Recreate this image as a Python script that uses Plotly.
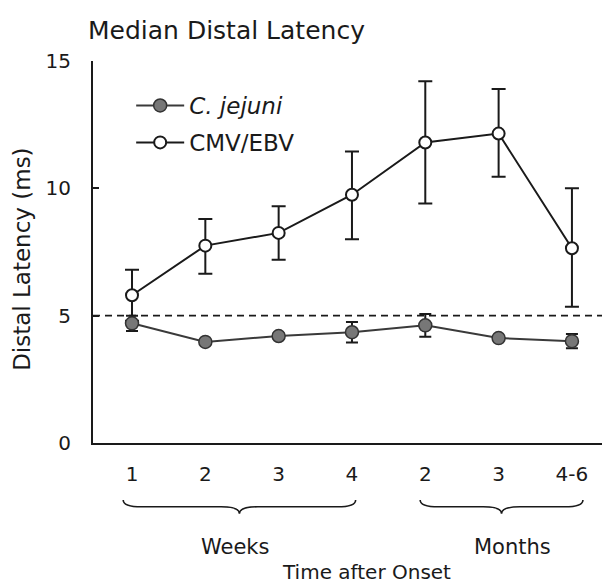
import plotly.graph_objects as go

# Time points after onset (weeks 1-4, then months 2, 3, 4-6)
tick_labels = ["1", "2", "3", "4", "2", "3", "4-6"]
positions = [1, 2, 3, 4, 5, 6, 7]

# Median distal latency (ms) with error-bar half widths
cmv_ebv = [5.8, 7.75, 8.25, 9.75, 11.8, 12.15, 7.65]
cmv_ebv_err_up = [1.0, 1.05, 1.05, 1.7, 2.4, 1.75, 2.35]
cmv_ebv_err_down = [1.0, 1.1, 1.05, 1.75, 2.4, 1.7, 2.3]

c_jejuni = [4.7, 3.97, 4.2, 4.35, 4.62, 4.12, 4.0]
c_jejuni_err = [0.3, 0.0, 0.1, 0.4, 0.45, 0.0, 0.28]

normal_limit = 5

FONT = "DejaVu Sans"
INK = "#1a1a1a"

fig = go.Figure()

fig.add_trace(go.Scatter(
    x=positions, y=cmv_ebv, name="CMV/EBV", legendrank=2,
    mode="lines+markers",
    line=dict(color=INK, width=2),
    marker=dict(symbol="circle", size=12, color="white",
                line=dict(color=INK, width=2)),
    error_y=dict(type="data", symmetric=False, array=cmv_ebv_err_up,
                 arrayminus=cmv_ebv_err_down, color=INK, thickness=2, width=7),
    legendgroup="b",
))

fig.add_trace(go.Scatter(
    x=positions, y=c_jejuni, name="<i>C. jejuni</i>", legendrank=1,
    mode="lines+markers",
    line=dict(color="#3a3a3a", width=2),
    marker=dict(symbol="circle", size=13, color="#777777",
                line=dict(color="#333333", width=1.5)),
    error_y=dict(type="data", array=c_jejuni_err, color=INK,
                 thickness=2, width=6),
    legendgroup="a",
))

# Upper limit of normal
fig.add_shape(type="line", xref="paper", yref="y", x0=0, x1=1,
              y0=normal_limit, y1=normal_limit,
              line=dict(color=INK, width=1.6, dash="7px,5px"))


def brace(x0, x1, y_top=-0.149, y_mid=-0.167, y_tip=-0.185):
    xc = (x0 + x1) / 2
    k = 0.25
    return (f"M {x0},{y_top} Q {x0},{y_mid} {x0 + k},{y_mid} "
            f"L {xc - k},{y_mid} Q {xc},{y_mid} {xc},{y_tip} "
            f"Q {xc},{y_mid} {xc + k},{y_mid} "
            f"L {x1 - k},{y_mid} Q {x1},{y_mid} {x1},{y_top}")


fig.add_shape(type="path", xref="x", yref="paper",
              path=brace(0.88, 4.05), line=dict(color=INK, width=1.6))
fig.add_shape(type="path", xref="x", yref="paper",
              path=brace(4.93, 7.15), line=dict(color=INK, width=1.6))

fig.add_annotation(text="Weeks", xref="paper", yref="paper", x=0.279, y=-0.272,
                   xanchor="center", yanchor="middle", showarrow=False,
                   font=dict(size=21, color=INK, family=FONT))
fig.add_annotation(text="Months", xref="paper", yref="paper", x=0.825, y=-0.272,
                   xanchor="center", yanchor="middle", showarrow=False,
                   font=dict(size=21, color=INK, family=FONT))
fig.add_annotation(text="Time after Onset", xref="paper", yref="paper",
                   x=0.538, y=-0.338, xanchor="center", yanchor="middle",
                   showarrow=False, font=dict(size=20, color=INK, family=FONT))
fig.add_annotation(text="Distal Latency (ms)", xref="paper", yref="paper",
                   x=-0.1395, y=0.482, xanchor="center", yanchor="middle",
                   textangle=-90, showarrow=False,
                   font=dict(size=23, color=INK, family=FONT))

fig.update_layout(
    width=602, height=583,
    margin=dict(l=93, r=0, t=61, b=140),
    paper_bgcolor="white", plot_bgcolor="white",
    font=dict(family=FONT, color=INK, size=20),
    title=dict(text="Median Distal Latency", x=88 / 602, xanchor="left",
               y=1 - 30 / 583, yanchor="middle",
               font=dict(size=25, family=FONT, color=INK)),
    showlegend=True,
    legend=dict(x=0.075, y=0.835, xanchor="left", yanchor="middle",
                bgcolor="rgba(0,0,0,0)", font=dict(size=23, family=FONT),
                itemwidth=48, tracegroupgap=4),
    xaxis=dict(range=[0.468, 7.41], tickvals=positions, ticktext=tick_labels,
               showline=True, linecolor=INK, linewidth=2, ticks="",
               showgrid=False, zeroline=False, ticklabelstandoff=12,
               tickfont=dict(size=20)),
    yaxis=dict(range=[0, 15], tickvals=[0, 5, 10, 15], showline=True,
               linecolor=INK, linewidth=2, ticks="inside", ticklen=6,
               tickwidth=2, tickcolor=INK, showgrid=False, zeroline=False,
               ticklabelstandoff=16, tickfont=dict(size=20)),
)

fig.write_html("out.html")
